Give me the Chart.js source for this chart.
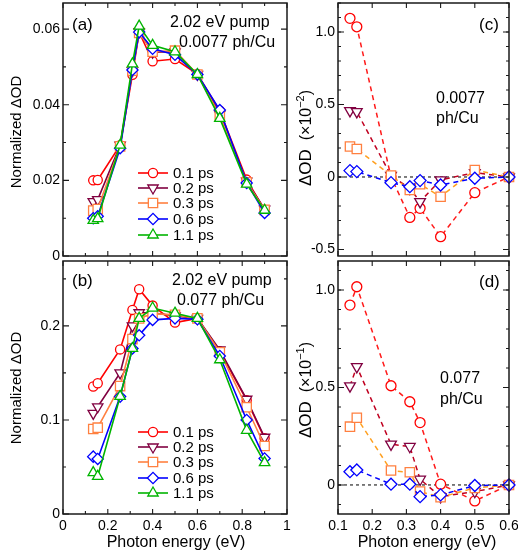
<!DOCTYPE html>
<html><head><meta charset="utf-8">
<script src="https://cdn.jsdelivr.net/npm/chart.js@4/dist/chart.umd.min.js"></script>
<style>
html,body{margin:0;padding:0;background:#fff;width:518px;height:556px;overflow:hidden;position:relative}
canvas{position:absolute;left:-40px;top:-40px}
</style></head>
<body>
<canvas id="ca" width="600" height="640"></canvas>
<canvas id="cb" width="600" height="640"></canvas>
<canvas id="cc" width="600" height="640"></canvas>
<canvas id="cd" width="600" height="640"></canvas>
<script>
// ---------- data ----------
const delayLabels = ['0.1 ps','0.2 ps','0.3 ps','0.6 ps','1.1 ps'];
const energyAB = [0.135,0.155,0.255,0.31,0.34,0.40,0.50,0.60,0.70,0.82,0.90];
const energyCD = [0.135,0.155,0.255,0.31,0.34,0.40,0.50,0.60];

const a01 = [0.0200,0.0201,0.0293,0.0479,0.0592,0.0515,0.0521,0.0481,0.0384,0.0202,0.0122];
const a02 = [0.0144,0.0149,0.0293,0.0490,0.0593,0.0539,0.0540,0.0480,0.0375,0.0198,0.0124];
const a03 = [0.0120,0.0124,0.0290,0.0490,0.0590,0.0540,0.0543,0.0480,0.0371,0.0195,0.0122];
const a06 = [0.0100,0.0105,0.0285,0.0492,0.0592,0.0548,0.0532,0.0480,0.0386,0.0193,0.0114];
const a11 = [0.0094,0.0099,0.0293,0.0508,0.0608,0.0557,0.0540,0.0480,0.0364,0.0190,0.0121];

const b01 = [0.1355,0.139,0.175,0.217,0.239,0.2216,0.2035,0.208,0.173,0.121,0.0805];
const b02 = [0.107,0.114,0.150,0.200,0.214,0.214,0.2106,0.208,0.1745,0.122,0.0816];
const b03 = [0.0904,0.0918,0.136,0.186,0.208,0.213,0.2117,0.208,0.172,0.1135,0.0723];
const b06 = [0.061,0.0585,0.1248,0.176,0.190,0.2064,0.208,0.207,0.168,0.100,0.059];
const b11 = [0.044,0.040,0.125,0.176,0.208,0.219,0.2135,0.208,0.164,0.089,0.0546];

const c01 = [1.094,1.036,0.0,-0.279,-0.216,-0.412,-0.108,0.0];
const c02 = [0.457,0.45,0.01,-0.08,-0.17,-0.02,0.03,0.0];
const c03 = [0.21,0.193,0.01,-0.09,-0.05,-0.136,0.048,0.0];
const c06 = [0.044,0.037,-0.039,-0.067,-0.025,-0.055,-0.009,0.0];

const d01 = [0.923,1.017,0.509,0.427,0.32,0.004,-0.082,0.0];
const d02 = [0.508,0.607,0.209,0.197,0.029,-0.06,-0.034,0.0];
const d03 = [0.299,0.345,0.074,0.065,-0.034,-0.063,-0.015,0.0];
const d06 = [0.068,0.077,0.004,0.004,-0.06,-0.051,-0.003,0.0];

// tick values and labels
const xTicksAB = [0,0.2,0.4,0.6,0.8,1];
const xLabelsAB = ['0','0.2','0.4','0.6','0.8','1'];
const xTicksCD = [0.1,0.2,0.3,0.4,0.5,0.6];
const xLabelsCD = ['0.1','0.2','0.3','0.4','0.5','0.6'];
const yTicksA = [0,0.02,0.04,0.06];
const yLabelsA = ['0','0.02','0.04','0.06'];
const yTicksB = [0,0.1,0.2];
const yLabelsB = ['0','0.1','0.2'];
const yTicksC = [-0.5,0,0.5,1.0];
const yLabelsC = ['-0.5','0','0.5','1.0'];
const yTicksD = [0,0.5,1.0];
const yLabelsD = ['0','0.5','1.0'];

// ---------- styles ----------
const OFF = 40, CW = 600, CH = 640;
const FONT = '"Liberation Sans", Arial, Helvetica, sans-serif';
const markColors = ['#ff0000','#800040','#ff8040','#0000ff','#00b400'];
const lineColorsCD = ['#ff1a1a','#c00020','#ffa020','#0000ff'];
const pStyles = ['circle','triangle','rect','rectRot','triangle'];
const pRot = [0,180,0,0,0];
const pRad = [4.6,6,6.6,5.6,6];

function steps(min, max, step){ const out=[]; for(let v=min; v<=max+1e-9; v+=step) out.push(+v.toFixed(6)); return out; }

function drawParts(ctx, t) {
  // composite text (different sizes / superscripts), centred at (x,y), optional rotation
  ctx.save();
  ctx.translate(t.x + OFF, t.y + OFF);
  if (t.rot) ctx.rotate(t.rot);
  ctx.textAlign = 'left'; ctx.textBaseline = 'alphabetic';
  let total = 0;
  t.parts.forEach(p => { ctx.font = p.s + 'px ' + FONT; p.w = ctx.measureText(p.t).width; total += p.w; });
  let cx = -total / 2;
  const base = t.base || 5;
  t.parts.forEach(p => { ctx.font = p.s + 'px ' + FONT; ctx.fillText(p.t, cx, base + (p.dy || 0)); cx += p.w; });
  ctx.restore();
}

const framePlugin = {
  id: 'frame',
  beforeDatasetsDraw(chart, args, o) {
    if (!o.zero) return;
    const {ctx, chartArea:a, scales:{y}} = chart;
    const py = y.getPixelForValue(0);
    ctx.save();
    ctx.strokeStyle = '#000'; ctx.lineWidth = 1; ctx.setLineDash([3,3]);
    ctx.beginPath(); ctx.moveTo(a.left, py); ctx.lineTo(a.right, py); ctx.stroke();
    ctx.restore();
  },
  afterDraw(chart, args, o) {
    const {ctx, chartArea:a, scales:{x,y}} = chart;
    ctx.save();
    ctx.strokeStyle = '#1a1a1a';
    ctx.lineWidth = 1.5;
    ctx.strokeRect(a.left, a.top, a.right - a.left, a.bottom - a.top);
    ctx.lineWidth = 1.1;
    const drawX = (vals, len) => vals.forEach(v => {
      const px = x.getPixelForValue(v);
      if (px < a.left - 0.5 || px > a.right + 0.5) return;
      ctx.beginPath();
      ctx.moveTo(px, a.bottom); ctx.lineTo(px, a.bottom - len);
      ctx.moveTo(px, a.top); ctx.lineTo(px, a.top + len);
      ctx.stroke();
    });
    const drawY = (vals, len) => vals.forEach(v => {
      const py = y.getPixelForValue(v);
      if (py < a.top - 0.5 || py > a.bottom + 0.5) return;
      ctx.beginPath();
      ctx.moveTo(a.left, py); ctx.lineTo(a.left + len, py);
      ctx.moveTo(a.right, py); ctx.lineTo(a.right - len, py);
      ctx.stroke();
    });
    drawX(o.xMinor, 3); drawX(o.xMajor, 5);
    drawY(o.yMinor, 3); drawY(o.yMajor, 6);

    ctx.fillStyle = '#000';
    (o.texts || []).forEach(t => {
      if (t.parts) { drawParts(ctx, t); return; }
      ctx.font = t.s + 'px ' + FONT;
      ctx.textAlign = t.al || 'left';
      ctx.textBaseline = t.bl || 'alphabetic';
      ctx.save();
      ctx.translate(t.x + OFF, t.y + OFF);
      if (t.rot) ctx.rotate(t.rot);
      ctx.fillText(t.t, 0, 0);
      ctx.restore();
    });

    if (o.legend) {
      const L = o.legend;
      chart.data.datasets.forEach((ds, i) => {
        const yy = L.ys[i] + OFF;
        ctx.strokeStyle = ds.borderColor; ctx.lineWidth = 1.6; ctx.setLineDash([]);
        ctx.beginPath(); ctx.moveTo(L.x0 + OFF, yy); ctx.lineTo(L.x1 + OFF, yy); ctx.stroke();
        const cx = (L.x0 + L.x1) / 2 + OFF;
        ctx.fillStyle = '#fff'; ctx.strokeStyle = ds.pointBorderColor; ctx.lineWidth = 1.3;
        if (Chart.helpers && Chart.helpers.drawPoint) {
          Chart.helpers.drawPoint(ctx, {pointStyle: ds.pointStyle, rotation: ds.pointRotation, radius: ds.pointRadius, borderWidth: 1.3}, cx, yy);
        } else {
          ctx.beginPath(); ctx.arc(cx, yy, ds.pointRadius, 0, Math.PI*2); ctx.fill(); ctx.stroke();
        }
        ctx.fillStyle = '#000';
        ctx.font = '15px ' + FONT; ctx.textAlign = 'left'; ctx.textBaseline = 'middle';
        ctx.fillText(ds.label, L.tx + OFF, yy + 1);
      });
    }
    ctx.restore();
  }
};

function makeDatasets(xs, series, solid, lineColors, rad) {
  return series.map((vals, i) => ({
    label: delayLabels[i],
    data: xs.map((x, k) => ({x, y: vals[k]})),
    borderColor: solid ? markColors[i] : lineColors[i],
    borderWidth: solid ? 1.6 : 1.5,
    borderDash: solid ? [] : [5,4],
    pointBorderColor: markColors[i],
    pointBackgroundColor: '#ffffff',
    pointBorderWidth: 1.3,
    pointStyle: pStyles[i],
    pointRotation: pRot[i],
    pointRadius: rad[i],
    tension: 0,
    fill: false,
    order: 10 - i,
    clip: false
  }));
}

function makeChart(id, p) {
  const box = p.box;
  const scaleCommon = {
    type: 'linear',
    grid: {display: false, drawTicks: false},
    border: {display: false},
  };
  return new Chart(document.getElementById(id), {
    type: 'line',
    data: {datasets: p.datasets},
    options: {
      responsive: false, animation: false, events: [], devicePixelRatio: 1,
      layout: {padding: {left: 0, top: box.T + OFF, right: CW - (box.R + OFF), bottom: 0}},
      plugins: {legend: {display: false}, tooltip: {enabled: false},
        frame: {xMajor: p.xTicks, xMinor: p.xMinor, yMajor: p.yTicks, yMinor: p.yMinor,
                zero: p.zero, texts: p.texts, legend: p.legend}},
      scales: {
        x: Object.assign({}, scaleCommon, {
          position: 'bottom', min: p.xMin, max: p.xMax,
          afterFit: s => { s.height = CH - (box.B + OFF); },
          afterBuildTicks: s => { s.ticks = p.xTicks.map(v => ({value: v})); },
          ticks: {display: p.showX, autoSkip: false, maxRotation: 0, padding: 4, color: '#000',
                  font: {family: FONT, size: 14},
                  callback: v => { const k = p.xTicks.findIndex(t => Math.abs(t - v) < 1e-9); return k >= 0 ? p.xLabels[k] : ''; }}
        }),
        y: Object.assign({}, scaleCommon, {
          position: 'left', min: p.yMin, max: p.yMax,
          afterFit: s => { s.width = box.L + OFF; },
          afterBuildTicks: s => { s.ticks = p.yTicks.map(v => ({value: v})); },
          ticks: {autoSkip: false, padding: 3, color: '#000', font: {family: FONT, size: 14},
                  callback: v => { const k = p.yTicks.findIndex(t => Math.abs(t - v) < 1e-9); return k >= 0 ? p.yLabels[k] : ''; }}
        })
      }
    },
    plugins: [framePlugin]
  });
}

const rot = -Math.PI / 2;

makeChart('ca', {
  box: {L: 63, R: 287, T: 3, B: 256},
  xMin: 0, xMax: 1, xTicks: xTicksAB, xLabels: xLabelsAB, xMinor: steps(0.1, 0.9, 0.2), showX: false,
  yMin: 0, yMax: 0.0669, yTicks: yTicksA, yLabels: yLabelsA, yMinor: steps(0.01, 0.06, 0.02),
  datasets: makeDatasets(energyAB, [a01,a02,a03,a06,a11], true, null, pRad),
  zero: false,
  texts: [
    {t: '(a)', x: 72, y: 30, s: 17},
    {t: '2.02 eV pump', x: 170, y: 27, s: 16},
    {t: '0.0077 ph/Cu', x: 179, y: 47, s: 16},
    {t: 'Normalized \u0394OD', x: 17, y: 132, s: 15, al: 'center', bl: 'middle', rot: rot}
  ],
  legend: {x0: 138, x1: 168, tx: 173, ys: [173, 188, 203, 219, 235]}
});

makeChart('cb', {
  box: {L: 63, R: 287, T: 261, B: 514},
  xMin: 0, xMax: 1, xTicks: xTicksAB, xLabels: xLabelsAB, xMinor: steps(0.1, 0.9, 0.2), showX: true,
  yMin: 0, yMax: 0.269, yTicks: yTicksB, yLabels: yLabelsB, yMinor: steps(0.05, 0.25, 0.1),
  datasets: makeDatasets(energyAB, [b01,b02,b03,b06,b11], true, null, pRad),
  zero: false,
  texts: [
    {t: '(b)', x: 72, y: 286, s: 17},
    {t: '2.02 eV pump', x: 172, y: 285, s: 16},
    {t: '0.077 ph/Cu', x: 177, y: 305, s: 16},
    {t: 'Normalized \u0394OD', x: 17, y: 388, s: 15, al: 'center', bl: 'middle', rot: rot},
    {t: 'Photon energy (eV)', x: 176, y: 547, s: 16, al: 'center'}
  ],
  legend: {x0: 138, x1: 168, tx: 173, ys: [432, 447, 462, 478, 493]}
});

const radCD = [5, 6.2, 6.6, 6, 6];

makeChart('cc', {
  box: {L: 338, R: 509, T: 3, B: 256},
  xMin: 0.1, xMax: 0.6, xTicks: xTicksCD, xLabels: xLabelsCD, xMinor: [], showX: false,
  yMin: -0.545, yMax: 1.2, yTicks: yTicksC, yLabels: yLabelsC, yMinor: steps(-0.5, 1.2, 0.1),
  datasets: makeDatasets(energyCD, [c01,c02,c03,c06], false, lineColorsCD, radCD),
  zero: true,
  texts: [
    {t: '(c)', x: 479, y: 30, s: 17},
    {t: '0.0077', x: 436, y: 103, s: 16},
    {t: 'ph/Cu', x: 436, y: 123, s: 16},
    {x: 305, y: 138, rot: rot, base: 6, parts: [
      {t: '\u0394OD', s: 17}, {t: '  (\u00d710', s: 16}, {t: '\u22122', s: 11, dy: -7}, {t: ')', s: 16}]}
  ]
});

makeChart('cd', {
  box: {L: 338, R: 509, T: 261, B: 514},
  xMin: 0.1, xMax: 0.6, xTicks: xTicksCD, xLabels: xLabelsCD, xMinor: [], showX: true,
  yMin: -0.149, yMax: 1.149, yTicks: yTicksD, yLabels: yLabelsD, yMinor: steps(-0.1, 1.1, 0.1),
  datasets: makeDatasets(energyCD, [d01,d02,d03,d06], false, lineColorsCD, radCD),
  zero: true,
  texts: [
    {t: '(d)', x: 479, y: 287, s: 17},
    {t: '0.077', x: 440, y: 383, s: 16},
    {t: 'ph/Cu', x: 440, y: 404, s: 16},
    {x: 305, y: 390, rot: rot, base: 6, parts: [
      {t: '\u0394OD', s: 17}, {t: '  (\u00d710', s: 16}, {t: '\u22121', s: 11, dy: -7}, {t: ')', s: 16}]},
    {t: 'Photon energy (eV)', x: 427, y: 547, s: 16, al: 'center'}
  ]
});
</script>
</body></html>
